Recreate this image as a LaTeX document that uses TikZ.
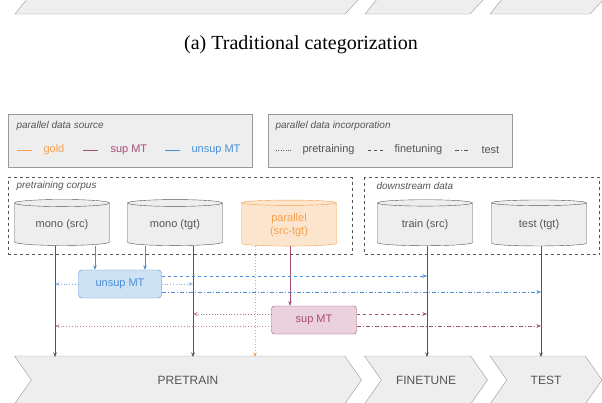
\documentclass[tikz,border=0pt]{standalone}
\usepackage{fontspec}
\setmainfont{Liberation Sans}
\newfontfamily\capfont{Liberation Serif}
\usetikzlibrary{shapes.geometric,shapes.symbols,arrows.meta}
\definecolor{boxgray}{HTML}{EEEEEE}
\definecolor{linegray}{HTML}{999999}
\definecolor{txtgray}{HTML}{555555}
\definecolor{gold}{HTML}{F6A04D}
\definecolor{goldfill}{HTML}{FCE5CD}
\definecolor{supc}{HTML}{A64D79}
\definecolor{supcfill}{HTML}{EAD1DC}
\definecolor{unsupc}{HTML}{4A8FD6}
\definecolor{unsupcfill}{HTML}{CFE2F3}
\tikzset{
  db/.style={cylinder, shape border rotate=90, aspect=0.12, draw=txtgray, fill=boxgray,
    minimum width=95pt, minimum height=46pt, text=txtgray, font=\fontsize{11}{13}\selectfont, align=center},
  stage/.style={signal, signal to=east, signal from=west, signal pointer angle=110, draw=linegray,
    fill=boxgray, minimum height=48pt, text=txtgray, font=\fontsize{12}{14}\selectfont, inner sep=0pt},
  mt/.style={draw=#1, fill=#1fill, rounded corners=3pt, minimum height=28pt, text=#1,
    font=\fontsize{11}{13}\selectfont},
  legend/.style={draw=linegray, fill=boxgray, thick, minimum height=53pt, minimum width=244pt},
  group/.style={draw=txtgray, dashed, minimum height=77pt},
  lbl/.style={font=\fontsize{10}{12}\selectfont\itshape, text=txtgray, anchor=west},
  ltxt/.style={font=\fontsize{11}{13}\selectfont, anchor=west},
  tip/.style={-{Stealth[length=4.5pt,width=3.5pt]}},
  pre/.style={dotted, thick},
  fin/.style={dashed},
  tst/.style={dash pattern=on 4pt off 2pt on 1pt off 2pt}
}
\begin{document}
\begin{tikzpicture}[x=1pt,y=-1pt]
  \useasboundingbox (0,0) rectangle (602,402);
  \clip (0,0) rectangle (602,402);

  % top strip of the previous figure
  \draw[linegray, fill=boxgray] (15,14) -- (28,-2) -- (360,-2) -- (345,14) -- cycle;
  \draw[linegray, fill=boxgray] (365,14) -- (378,-2) -- (485,-2) -- (470,14) -- cycle;
  \draw[linegray, fill=boxgray] (490,14) -- (503,-2) -- (605,-2) -- (590,14) -- cycle;
  \node[font=\capfont\fontsize{20}{24}\selectfont] (cap) at (301,45) {(a) Traditional categorization};

  % legends
  \node[legend] (src) at (130,141) {};
  \node[legend] (inc) at (390,141) {};
  \node[lbl] at (13,126) {parallel data source};
  \node[lbl] at (272,126) {parallel data incorporation};
  \draw[gold] (17,150) -- (32,150); \node[ltxt, text=gold] at (40,150) {gold};
  \draw[supc] (83,150) -- (98,150); \node[ltxt, text=supc] at (107,150) {sup MT};
  \draw[unsupc] (165,150) -- (180,150); \node[ltxt, text=unsupc] at (188,150) {unsup MT};
  \draw[txtgray, dotted] (276,150) -- (292,150); \node[ltxt, text=txtgray] at (299,150) {pretraining};
  \draw[txtgray, fin] (368,150) -- (383,150); \node[ltxt, text=txtgray] at (391,150) {finetuning};
  \draw[txtgray, tst] (455,150) -- (470,150); \node[ltxt, text=txtgray] at (478,150) {test};

  % data groups
  \node[group, minimum width=344pt] (corpus) at (180,216) {};
  \node[group, minimum width=235pt] (down) at (482,216) {};
  \node[lbl] at (13,186) {pretraining corpus};
  \node[lbl] at (373,186) {downstream data};

  \node[db] (msrc) at (62,225) {mono (src)};
  \node[db] (mtgt) at (175,225) {mono (tgt)};
  \node[db, draw=gold, fill=goldfill, text=gold] (par) at (289,225) {parallel\\(src-tgt)};
  \node[db] (trn) at (425,225) {train (src)};
  \node[db] (tst) at (539,225) {test (tgt)};

  % stages
  \node[stage, minimum width=347pt] (ptr) at (188,380) {PRETRAIN};
  \node[stage, minimum width=123pt] (fnt) at (426,380) {FINETUNE};
  \node[stage, minimum width=112pt] (tes) at (546,380) {TEST};

  % models
  \node[mt=unsupc, minimum width=83pt] (umt) at (120,284) {unsup MT};
  \node[mt=supc, minimum width=85pt] (smt) at (314,320) {sup MT};

  % plain data flow
  \coordinate (a1) at (55,357);
  \coordinate (a2) at (193,357);
  \coordinate (a3) at (427,357);
  \coordinate (a4) at (541,357);
  \draw[tip, txtgray] (msrc.south -| a1) -- (a1);
  \draw[tip, txtgray] (mtgt.south -| a2) -- (a2);
  \draw[tip, txtgray] (trn.south -| a3) -- (a3);
  \draw[tip, txtgray] (tst.south -| a4) -- (a4);
  \draw[tip, gold, pre] (par.south -| 255,0) -- (255,357);

  % model inputs
  \draw[tip, unsupc, thick] (msrc.south -| 95,0) -- (umt.north -| 95,0);
  \draw[tip, unsupc] (mtgt.south -| 145,0) -- (umt.north -| 145,0);
  \draw[tip, supc] (par.south -| 290,0) -- (smt.north -| 290,0);

  % unsup MT outputs
  \draw[tip, unsupc, fin] (umt.east |- 0,276) -- (a3 |- 0,276);
  \draw[tip, unsupc!70, pre] (umt.west |- 0,284) -- (a1 |- 0,284);
  \draw[tip, unsupc!70, pre] (umt.east |- 0,284) -- (a2 |- 0,284);
  \draw[tip, unsupc, tst] (umt.east |- 0,292) -- (a4 |- 0,292);

  % sup MT outputs
  \draw[tip, supc!80, pre] (smt.west |- 0,314) -- (a2 |- 0,314);
  \draw[tip, supc!70, pre] (smt.west |- 0,326) -- (a1 |- 0,326);
  \draw[tip, supc, fin] (smt.east |- 0,314) -- (a3 |- 0,314);
  \draw[tip, supc, tst] (smt.east |- 0,326) -- (a4 |- 0,326);
\end{tikzpicture}
\end{document}
